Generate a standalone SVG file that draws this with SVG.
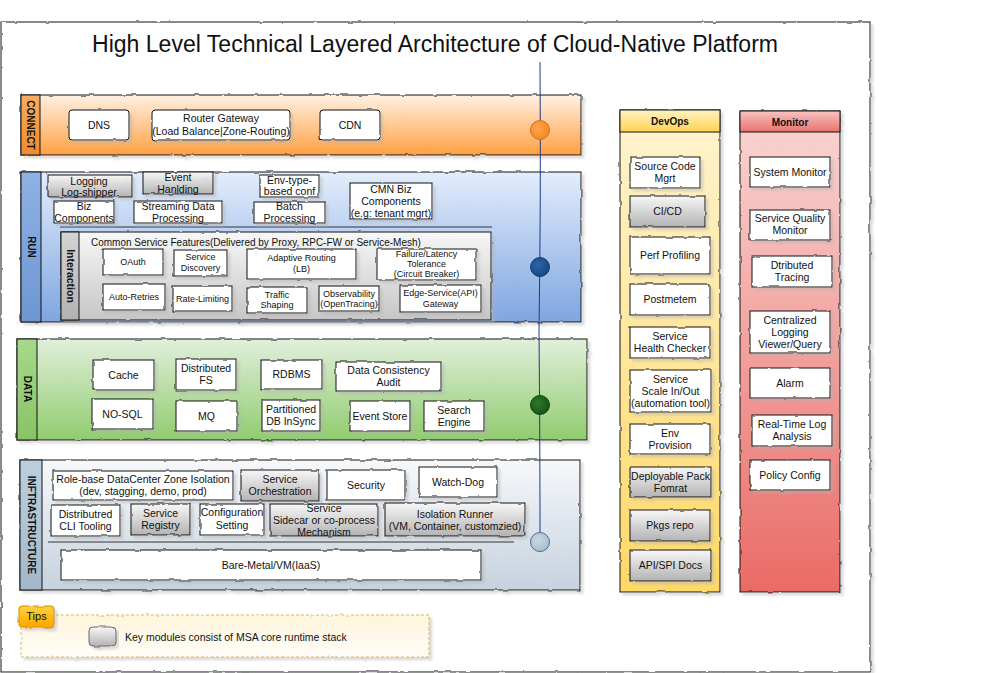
<svg xmlns="http://www.w3.org/2000/svg" width="995" height="673" viewBox="0 0 995 673">
<defs>
<style>
text{font-family:"Liberation Sans",Arial,Helvetica,sans-serif;fill:#111}
.t{font-size:10.5px;text-anchor:middle}
.s{font-size:9px;text-anchor:middle}
.lbl{font-size:10px;font-weight:bold;text-anchor:middle}
.b{stroke:#111;stroke-width:1}
.w{fill:#fff}
.g{fill:url(#gGray)}
.sk{filter:url(#sk)}
.sep{stroke:#333;stroke-width:1;fill:none}
</style>
<filter id="sk" x="-5%" y="-10%" width="115%" height="135%">
<feTurbulence type="fractalNoise" baseFrequency="0.09" numOctaves="2" seed="4" result="n"/>
<feDisplacementMap in="SourceGraphic" in2="n" scale="2.5" xChannelSelector="R" yChannelSelector="G" result="d"/>
<feGaussianBlur in="d" stdDeviation="1.2" result="bl"/>
<feOffset in="bl" dx="2.5" dy="3" result="of"/>
<feColorMatrix in="of" type="matrix" values="0 0 0 0 0.45 0 0 0 0 0.45 0 0 0 0 0.45 0 0 0 0.45 0" result="sh"/>
<feMerge><feMergeNode in="sh"/><feMergeNode in="d"/></feMerge>
</filter>
<linearGradient id="gOrange" x1="0" y1="0" x2="0" y2="1"><stop offset="0" stop-color="#fff1e3"/><stop offset="1" stop-color="#ffa042"/></linearGradient>
<linearGradient id="gOrangeS" x1="0" y1="0" x2="0" y2="1"><stop offset="0" stop-color="#f8ad63"/><stop offset="1" stop-color="#ef8b2c"/></linearGradient>
<linearGradient id="gBlue" x1="0" y1="0" x2="0" y2="1"><stop offset="0" stop-color="#e3edfc"/><stop offset="1" stop-color="#7ea6e0"/></linearGradient>
<linearGradient id="gBlueS" x1="0" y1="0" x2="0" y2="1"><stop offset="0" stop-color="#8fb2e4"/><stop offset="1" stop-color="#6d96d3"/></linearGradient>
<linearGradient id="gGreen" x1="0" y1="0" x2="0" y2="1"><stop offset="0" stop-color="#e1efdc"/><stop offset="1" stop-color="#90cc6e"/></linearGradient>
<linearGradient id="gGreenS" x1="0" y1="0" x2="0" y2="1"><stop offset="0" stop-color="#a7d88b"/><stop offset="1" stop-color="#88c467"/></linearGradient>
<linearGradient id="gInfra" x1="0" y1="0" x2="0" y2="1"><stop offset="0" stop-color="#f6f8fb"/><stop offset="1" stop-color="#c6d2de"/></linearGradient>
<linearGradient id="gInfraS" x1="0" y1="0" x2="0" y2="1"><stop offset="0" stop-color="#bccfdd"/><stop offset="1" stop-color="#a2b8ca"/></linearGradient>
<linearGradient id="gGray" x1="0" y1="0" x2="0" y2="1"><stop offset="0" stop-color="#f7f7f7"/><stop offset="1" stop-color="#b3b3b3"/></linearGradient>
<linearGradient id="gInter" x1="0" y1="0" x2="0" y2="1"><stop offset="0" stop-color="#f7f7f7"/><stop offset="1" stop-color="#c6c6c6"/></linearGradient>
<linearGradient id="gInterS" x1="0" y1="0" x2="0" y2="1"><stop offset="0" stop-color="#d4d4d4"/><stop offset="1" stop-color="#b2b2b2"/></linearGradient>
<linearGradient id="gYellow" x1="0" y1="0" x2="0" y2="1"><stop offset="0" stop-color="#fff4d0"/><stop offset="1" stop-color="#ffd966"/></linearGradient>
<linearGradient id="gYellowH" x1="0" y1="0" x2="0" y2="1"><stop offset="0" stop-color="#fff3c4"/><stop offset="1" stop-color="#ffd44f"/></linearGradient>
<linearGradient id="gRed" x1="0" y1="0" x2="0" y2="1"><stop offset="0" stop-color="#f9d6d4"/><stop offset="1" stop-color="#ea6b66"/></linearGradient>
<linearGradient id="gRedH" x1="0" y1="0" x2="0" y2="1"><stop offset="0" stop-color="#f8c4c2"/><stop offset="1" stop-color="#e8716c"/></linearGradient>
<linearGradient id="gTips" x1="0" y1="0" x2="0" y2="1"><stop offset="0" stop-color="#ffd338"/><stop offset="1" stop-color="#ffa500"/></linearGradient>
<linearGradient id="gTipsBox" x1="0" y1="0" x2="0" y2="1"><stop offset="0" stop-color="#fff5dc"/><stop offset="1" stop-color="#fffdf8"/></linearGradient>
<radialGradient id="cOrange" cx="0.4" cy="0.4" r="0.6"><stop offset="0" stop-color="#ffa64d"/><stop offset="1" stop-color="#f58a1f"/></radialGradient>
<radialGradient id="cBlue" cx="0.4" cy="0.4" r="0.6"><stop offset="0" stop-color="#2a65a8"/><stop offset="1" stop-color="#174a85"/></radialGradient>
<radialGradient id="cGreen" cx="0.4" cy="0.4" r="0.6"><stop offset="0" stop-color="#2f7a2f"/><stop offset="1" stop-color="#185418"/></radialGradient>
<radialGradient id="cGray" cx="0.4" cy="0.4" r="0.6"><stop offset="0" stop-color="#c9d7e3"/><stop offset="1" stop-color="#aabfd0"/></radialGradient>
</defs>

<rect id="frame" x="1" y="22" width="869" height="650" fill="#fff" class="b sk"/>
<text id="title" x="92" y="52" font-size="23" textLength="686" lengthAdjust="spacingAndGlyphs">High Level Technical Layered Architecture of Cloud-Native Platform</text>

<!-- CONNECT layer -->
<g id="layer-connect">
<rect class="b sk" x="21" y="95" width="560" height="60" fill="url(#gOrange)"/>
<rect class="b" x="21" y="95" width="19" height="60" fill="url(#gOrangeS)"/>
<text class="lbl" transform="translate(27,125) rotate(90)">CONNECT</text>
</g>
<g id="n-dns"><rect class="b w sk" x="69" y="110" width="60" height="30" rx="3"/><text class="t" x="99" y="129">DNS</text></g>
<g id="n-router"><rect class="b w sk" x="152" y="110" width="138" height="30" rx="3"/><text class="t"><tspan x="221" y="122">Router Gateway</tspan><tspan x="221" y="135">(Load Balance|Zone-Routing)</tspan></text></g>
<g id="n-cdn"><rect class="b w sk" x="320" y="110" width="60" height="30" rx="3"/><text class="t" x="350" y="129">CDN</text></g>

<!-- RUN layer -->
<g id="layer-run">
<rect class="b sk" x="21" y="172" width="560" height="150" fill="url(#gBlue)"/>
<rect class="b" x="21" y="172" width="20" height="150" fill="url(#gBlueS)"/>
<text class="lbl" transform="translate(28,247) rotate(90)">RUN</text>
<line class="sep" x1="60" y1="227" x2="492" y2="227"/>
</g>
<g id="n-logging"><rect class="b g sk" x="48" y="175" width="84" height="22"/><text class="t"><tspan x="89" y="185">Logging</tspan><tspan x="89" y="196">Log-shipper</tspan></text></g>
<g id="n-event"><rect class="b g sk" x="143" y="172" width="70" height="22"/><text class="t"><tspan x="178" y="181">Event</tspan><tspan x="178" y="193">Hanlding</tspan></text></g>
<g id="n-biz"><rect class="b w sk" x="54" y="201" width="60" height="22"/><text class="t"><tspan x="84" y="210">Biz</tspan><tspan x="84" y="222">Components</tspan></text></g>
<g id="n-stream"><rect class="b w sk" x="134" y="201" width="88" height="22"/><text class="t"><tspan x="178" y="210">Streaming Data</tspan><tspan x="178" y="222">Processing</tspan></text></g>
<g id="n-env"><rect class="b w sk" x="260" y="175" width="59" height="22"/><text class="t"><tspan x="289.5" y="184">Env-type-</tspan><tspan x="289.5" y="195">based conf</tspan></text></g>
<g id="n-batch"><rect class="b w sk" x="254" y="202" width="71" height="21"/><text class="t"><tspan x="289.5" y="210">Batch</tspan><tspan x="289.5" y="222">Processing</tspan></text></g>
<g id="n-cmn"><rect class="b w sk" x="350" y="183" width="82" height="36"/><text class="t"><tspan x="391" y="193">CMN Biz</tspan><tspan x="391" y="205">Components</tspan><tspan x="391" y="217">(e.g: tenant mgrt)</tspan></text></g>

<g id="interaction">
<rect class="b sk" x="61" y="232" width="430" height="88" fill="url(#gInter)"/>
<rect class="b" x="61" y="232" width="18" height="88" fill="url(#gInterS)"/>
<text class="t" font-weight="bold" font-size="10" transform="translate(67,276) rotate(90)">Interaction</text>
<text x="91" y="246" font-size="10">Common Service Features(Delivered by Proxy, RPC-FW or Service-Mesh)</text>
</g>
<g id="n-oauth"><rect class="b w sk" x="103" y="249" width="60" height="26"/><text class="s" x="133" y="265">OAuth</text></g>
<g id="n-discovery"><rect class="b w sk" x="174" y="250" width="53" height="26"/><text class="s"><tspan x="200.5" y="260">Service</tspan><tspan x="200.5" y="271">Discovery</tspan></text></g>
<g id="n-adaptive"><rect class="b w sk" x="247" y="249" width="109" height="30"/><text class="s"><tspan x="301.5" y="261">Adaptive Routing</tspan><tspan x="301.5" y="272">(LB)</tspan></text></g>
<g id="n-failure"><rect class="b w sk" x="377" y="249" width="99" height="31"/><text class="s"><tspan x="426.5" y="257">Failure/Latency</tspan><tspan x="426.5" y="267">Tolerance</tspan><tspan x="426.5" y="277">(Circuit Breaker)</tspan></text></g>
<g id="n-retries"><rect class="b w sk" x="103" y="284" width="62" height="26"/><text class="s" x="134" y="300">Auto-Retries</text></g>
<g id="n-ratelimit"><rect class="b w sk" x="173" y="286" width="59" height="25"/><text class="s" x="202.5" y="302">Rate-Limiting</text></g>
<g id="n-traffic"><rect class="b w sk" x="247" y="287" width="60" height="26"/><text class="s"><tspan x="277" y="298">Traffic</tspan><tspan x="277" y="308">Shaping</tspan></text></g>
<g id="n-observ"><rect class="b w sk" x="319" y="286" width="60" height="25"/><text class="s"><tspan x="349" y="297">Observability</tspan><tspan x="349" y="307">(OpenTracing)</tspan></text></g>
<g id="n-edge"><rect class="b w sk" x="400" y="285" width="81" height="27"/><text class="s"><tspan x="440.5" y="296">Edge-Service(API)</tspan><tspan x="440.5" y="307">Gateway</tspan></text></g>

<!-- DATA layer -->
<g id="layer-data">
<rect class="b sk" x="17" y="339" width="570" height="101" fill="url(#gGreen)"/>
<rect class="b" x="17" y="339" width="20" height="101" fill="url(#gGreenS)"/>
<text class="lbl" transform="translate(24,389) rotate(90)">DATA</text>
</g>
<g id="n-cache"><rect class="b w sk" x="93" y="360" width="61" height="30"/><text class="t" x="123.5" y="379">Cache</text></g>
<g id="n-dfs"><rect class="b w sk" x="176" y="359" width="60" height="31"/><text class="t"><tspan x="206" y="372">Distributed</tspan><tspan x="206" y="384">FS</tspan></text></g>
<g id="n-rdbms"><rect class="b w sk" x="261" y="360" width="61" height="29"/><text class="t" x="291.5" y="378">RDBMS</text></g>
<g id="n-audit"><rect class="b w sk" x="336" y="362" width="105" height="29"/><text class="t"><tspan x="388.5" y="374">Data Consistency</tspan><tspan x="388.5" y="386">Audit</tspan></text></g>
<g id="n-nosql"><rect class="b w sk" x="92" y="399" width="61" height="30"/><text class="t" x="122.5" y="418">NO-SQL</text></g>
<g id="n-mq"><rect class="b w sk" x="176" y="401" width="61" height="30"/><text class="t" x="206.5" y="420">MQ</text></g>
<g id="n-partition"><rect class="b w sk" x="262" y="400" width="58" height="31"/><text class="t"><tspan x="291" y="413">Partitioned</tspan><tspan x="291" y="425">DB InSync</tspan></text></g>
<g id="n-eventstore"><rect class="b w sk" x="350" y="401" width="60" height="30"/><text class="t" x="380" y="420">Event Store</text></g>
<g id="n-search"><rect class="b w sk" x="424" y="401" width="60" height="30"/><text class="t"><tspan x="454" y="414">Search</tspan><tspan x="454" y="426">Engine</tspan></text></g>

<!-- INFRASTRUCTURE layer -->
<g id="layer-infra">
<rect class="b sk" x="20" y="460" width="560" height="130" fill="url(#gInfra)"/>
<rect class="b" x="20" y="460" width="22" height="130" fill="url(#gInfraS)"/>
<text class="lbl" transform="translate(28,525) rotate(90)">INFTRASTRUCTURE</text>
<line class="sep" x1="48" y1="542" x2="514" y2="542"/>
</g>
<g id="n-role"><rect class="b w sk" x="53" y="471" width="180" height="29"/><text class="t"><tspan x="143" y="483">Role-base DataCenter Zone Isolation</tspan><tspan x="143" y="495">(dev, stagging, demo, prod)</tspan></text></g>
<g id="n-orch"><rect class="b g sk" x="241" y="470" width="78" height="31"/><text class="t"><tspan x="280" y="483">Service</tspan><tspan x="280" y="495">Orchestration</tspan></text></g>
<g id="n-security"><rect class="b w sk" x="327" y="470" width="78" height="30"/><text class="t" x="366" y="489">Security</text></g>
<g id="n-watchdog"><rect class="b w sk" x="419" y="467" width="78" height="30"/><text class="t" x="458" y="486">Watch-Dog</text></g>
<g id="n-cli"><rect class="b w sk" x="51" y="505" width="69" height="31"/><text class="t"><tspan x="85.5" y="518">Distributred</tspan><tspan x="85.5" y="530">CLI Tooling</tspan></text></g>
<g id="n-registry"><rect class="b g sk" x="131" y="504" width="59" height="31"/><text class="t"><tspan x="160.5" y="517">Service</tspan><tspan x="160.5" y="529">Registry</tspan></text></g>
<g id="n-config"><rect class="b w sk" x="200" y="504" width="64" height="31"/><text class="t"><tspan x="232" y="516">Configuration</tspan><tspan x="232" y="529">Setting</tspan></text></g>
<g id="n-sidecar"><rect class="b g sk" x="270" y="504" width="108" height="32"/><text class="t"><tspan x="324" y="512">Service</tspan><tspan x="324" y="524">Sidecar or co-process</tspan><tspan x="324" y="536">Mechanism</tspan></text></g>
<g id="n-isolation"><rect class="b g sk" x="385" y="503" width="140" height="33"/><text class="t"><tspan x="455" y="518">Isolation Runner</tspan><tspan x="455" y="530">(VM, Container, customzied)</tspan></text></g>
<g id="n-baremetal"><rect class="b w sk" x="61" y="550" width="420" height="30"/><text class="t" x="271" y="569">Bare-Metal/VM(IaaS)</text></g>

<!-- DevOps -->
<g id="col-devops">
<rect class="b sk" x="620" y="110" width="100" height="482" fill="url(#gYellow)"/>
<rect class="b" x="620" y="110" width="100" height="22" fill="url(#gYellowH)"/>
<text class="lbl" x="670" y="125">DevOps</text>
</g>
<g id="n-scm"><rect class="b w sk" x="630" y="157" width="70" height="31"/><text class="t"><tspan x="665" y="170">Source Code</tspan><tspan x="665" y="182">Mgrt</tspan></text></g>
<g id="n-cicd"><rect class="b g sk" x="630" y="196" width="75" height="31"/><text class="t" x="667.5" y="215">CI/CD</text></g>
<g id="n-perf"><rect class="b w sk" x="630" y="237" width="80" height="37"/><text class="t" x="670" y="259">Perf Profiling</text></g>
<g id="n-postmetem"><rect class="b w sk" x="630" y="284" width="80" height="31"/><text class="t" x="670" y="303">Postmetem</text></g>
<g id="n-health"><rect class="b w sk" x="630" y="327" width="80" height="31"/><text class="t"><tspan x="670" y="340">Service</tspan><tspan x="670" y="352">Health Checker</tspan></text></g>
<g id="n-scale"><rect class="b w sk" x="630" y="370" width="81" height="42"/><text class="t"><tspan x="670.5" y="383">Service</tspan><tspan x="670.5" y="395">Scale In/Out</tspan><tspan x="670.5" y="407">(automation tool)</tspan></text></g>
<g id="n-envprov"><rect class="b w sk" x="630" y="424" width="80" height="30"/><text class="t"><tspan x="670" y="437">Env</tspan><tspan x="670" y="449">Provision</tspan></text></g>
<g id="n-deploy"><rect class="b g sk" x="630" y="467" width="81" height="30"/><text class="t"><tspan x="670.5" y="480">Deployable Pack</tspan><tspan x="670.5" y="492">Fomrat</tspan></text></g>
<g id="n-pkgs"><rect class="b g sk" x="630" y="510" width="80" height="31"/><text class="t" x="670" y="529">Pkgs repo</text></g>
<g id="n-apidocs"><rect class="b g sk" x="630" y="550" width="81" height="31"/><text class="t" x="670.5" y="569">API/SPI Docs</text></g>

<!-- Monitor -->
<g id="col-monitor">
<rect class="b sk" x="740" y="111" width="100" height="481" fill="url(#gRed)"/>
<rect class="b" x="740" y="111" width="100" height="21" fill="url(#gRedH)"/>
<text class="lbl" x="790" y="126">Monitor</text>
</g>
<g id="n-sysmon"><rect class="b w sk" x="750" y="157" width="80" height="30"/><text class="t" x="790" y="176">System Monitor</text></g>
<g id="n-sqm"><rect class="b w sk" x="750" y="210" width="80" height="30"/><text class="t"><tspan x="790" y="222">Service Quality</tspan><tspan x="790" y="234">Monitor</tspan></text></g>
<g id="n-tracing"><rect class="b w sk" x="752" y="256" width="80" height="31"/><text class="t"><tspan x="792" y="269">Dtributed</tspan><tspan x="792" y="281">Tracing</tspan></text></g>
<g id="n-logview"><rect class="b w sk" x="750" y="311" width="80" height="42"/><text class="t"><tspan x="790" y="324">Centralized</tspan><tspan x="790" y="336">Logging</tspan><tspan x="790" y="348">Viewer/Query</tspan></text></g>
<g id="n-alarm"><rect class="b w sk" x="750" y="368" width="80" height="30"/><text class="t" x="790" y="387">Alarm</text></g>
<g id="n-rtlog"><rect class="b w sk" x="752" y="415" width="80" height="31"/><text class="t"><tspan x="792" y="428">Real-Time Log</tspan><tspan x="792" y="440">Analysis</tspan></text></g>
<g id="n-policy"><rect class="b w sk" x="750" y="460" width="80" height="30"/><text class="t" x="790" y="479">Policy Config</text></g>

<!-- Tips -->
<g id="tips">
<rect x="21" y="615" width="408" height="42" fill="url(#gTipsBox)" stroke="#d9b65a" stroke-dasharray="3 2" class="sk"/>
<rect x="19" y="606" width="35" height="21" rx="3" fill="url(#gTips)" stroke="#d08f00" class="sk"/>
<text x="36.5" y="620" font-size="11" text-anchor="middle">Tips</text>
<rect x="89" y="627" width="27" height="19" rx="4" fill="url(#gGray)" stroke="#666" class="sk"/>
<text x="125" y="641" font-size="10.5">Key modules consist of MSA core runtime stack</text>
</g>

<!-- connectors -->
<g id="connectors">
<path d="M540,62 Q541,200 539,330 Q540,450 540,532" fill="none" stroke="#1f3a8a" stroke-width="1"/>
<circle cx="540" cy="130" r="9.5" fill="url(#cOrange)" stroke="#d07030"/>
<circle cx="540" cy="267" r="9.5" fill="url(#cBlue)" stroke="#123e70"/>
<circle cx="540" cy="405" r="9.5" fill="url(#cGreen)" stroke="#134413"/>
<circle cx="540" cy="542" r="9.5" fill="url(#cGray)" stroke="#4d6e8c"/>
</g>
</svg>
